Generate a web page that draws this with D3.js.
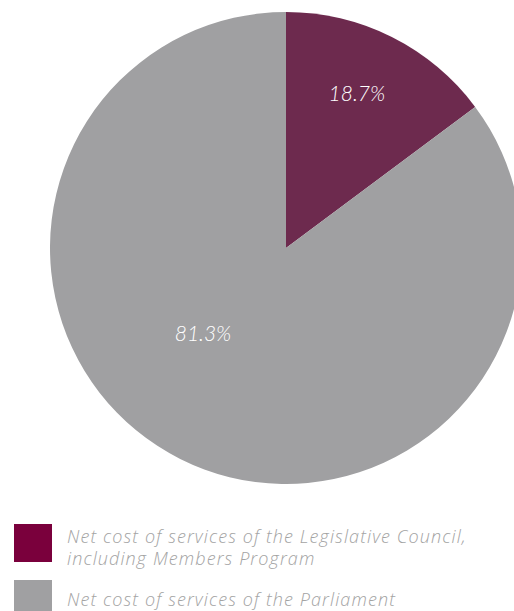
<!DOCTYPE html>
<html><head><meta charset="utf-8">
<script src="https://cdn.jsdelivr.net/npm/d3@7/dist/d3.min.js"></script>
<style>
html,body{margin:0;padding:0;background:#fff;}
svg{display:block;}
</style></head>
<body>
<script>
// Data
const categories = ["Net cost of services of the Legislative Council, including Members Program", "Net cost of services of the Parliament"];
const sliceValues = [14.8, 85.2];          // drawn share of the circle
const sliceLabels = ["18.7%", "81.3%"];     // printed labels
const legendLines = [["Net cost of services of the Legislative Council,", "including Members Program"], ["Net cost of services of the Parliament"]];
const sliceColors = ["#6d2a4e", "#a0a0a2"];
const legendColors = ["#7a003c", "#a0a0a2"];

const W = 514, H = 611;
const svg = d3.select("body").append("svg").attr("width", W).attr("height", H);

const cx = 286, cy = 248, R = 236;
const pie = d3.pie().sort(null).value(d => d)(sliceValues);
const arc = d3.arc().innerRadius(0).outerRadius(R);

const g = svg.append("g").attr("transform", `translate(${cx},${cy})`);
g.selectAll("path").data(pie).join("path")
  .attr("d", arc).attr("fill", (d, i) => sliceColors[i]);

const labelR = [0.72, 0.506];
const labelAngleShift = [-2, 17.4].map(a => a * Math.PI / 180);
g.selectAll("text").data(pie).join("text")
  .attr("transform", (d, i) => {
    const a = (d.startAngle + d.endAngle) / 2 + labelAngleShift[i];
    const r = R * labelR[i];
    return `translate(${Math.sin(a) * r},${-Math.cos(a) * r})`;
  })
  .attr("text-anchor", "middle").attr("dy", "0.35em")
  .attr("fill", "#fff")
  .style("font-family", "Lato, 'Open Sans', sans-serif")
  .style("font-style", "italic").style("font-weight", 300)
  .style("font-size", "21px")
  .text((d, i) => sliceLabels[i]);

// Legend
const legY = [524, 580];
const legTextOff = [18.5, 25.5];
const leg = svg.append("g");
categories.forEach((c, i) => {
  leg.append("rect").attr("x", 14).attr("y", legY[i]).attr("width", 38).attr("height", 38).attr("fill", legendColors[i]);
  const t = leg.append("text").attr("x", 67).attr("y", legY[i] + legTextOff[i])
    .attr("fill", "#a3a3a3")
    .style("font-family", "'Open Sans', sans-serif")
    .style("font-style", "italic").style("font-weight", 300)
    .style("font-size", "18px")
    .style("letter-spacing", "1.1px");
  legendLines[i].forEach((l, j) => {
    t.append("tspan").attr("x", 67).attr("dy", j === 0 ? 0 : 22).text(l);
  });
});
</script>
</body></html>
